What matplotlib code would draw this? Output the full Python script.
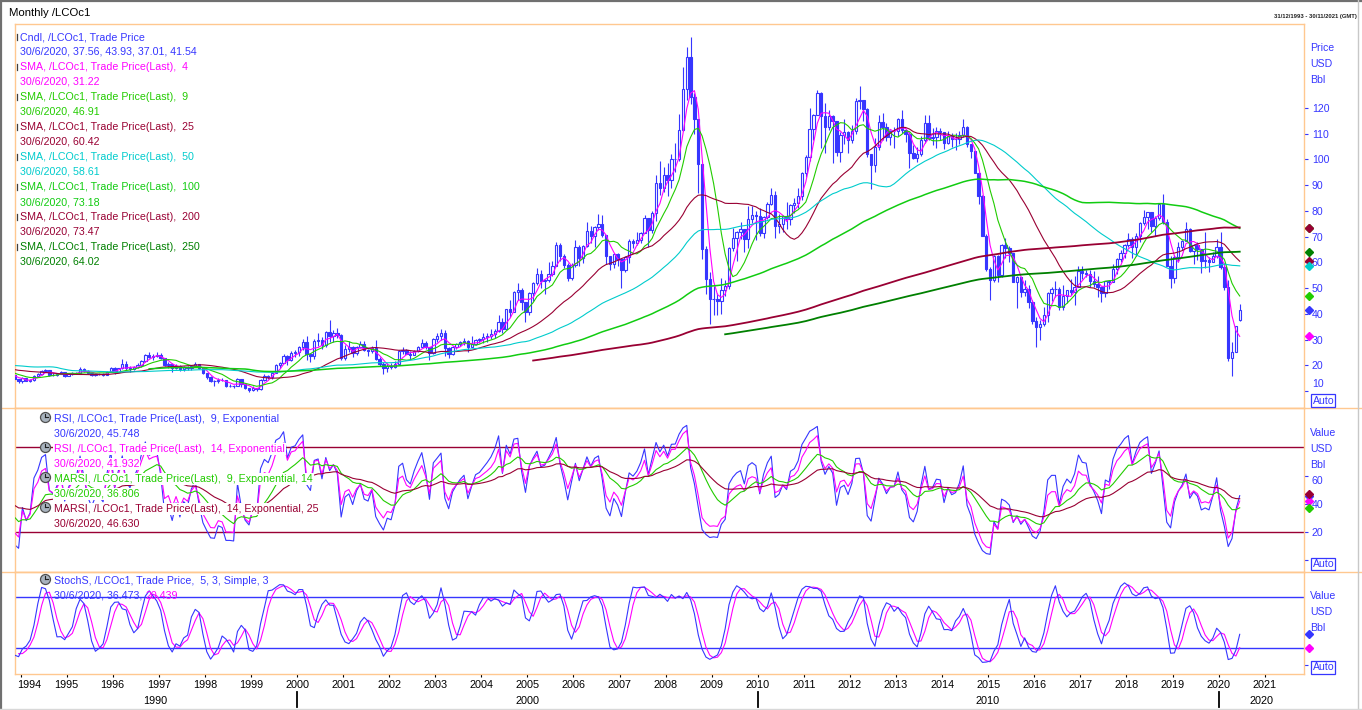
import numpy as np
import pandas as pd
import matplotlib
matplotlib.use("Agg")
import matplotlib.pyplot as plt
from matplotlib.lines import Line2D
import matplotlib.transforms as mtrans

# ---------------------------------------------------------------- data
# Monthly closes used only as history for the long moving averages (Jul 1988 - Mar 1993)
hist_start = "1988-07"
close_hist = [
    14.9, 14.5, 12.9, 12.6, 14.0, 16.5,
    17.2, 17.0, 19.3, 19.9, 17.9, 18.4, 17.8, 17.5, 19.4, 19.4, 19.5, 21.8,
    20.5, 19.4, 17.6, 16.4, 16.3, 15.8, 19.5, 27.0, 37.0, 31.5, 30.5, 27.3,
    20.2, 18.6, 19.3, 19.4, 18.9, 18.7, 19.6, 19.9, 20.8, 22.6, 20.2, 17.9,
    18.2, 18.2, 17.9, 19.5, 20.0, 21.0, 19.6, 19.8, 20.4, 19.7, 18.8, 18.0,
    17.5, 18.3, 18.5,
]

# Monthly candles (Apr 1993 - Jun 2020)
ohlc_start = "1993-04"
closes = [
    18.6, 18.1, 16.6, 16.6, 16.8, 16.4, 16.2, 14.5, 13.7,
    15.0, 13.9, 14.2, 16.0, 16.6, 17.8, 18.1, 16.4, 16.2, 16.6, 17.3, 15.9,
    16.6, 17.1, 17.1, 18.6, 17.8, 16.8, 16.2, 16.6, 16.6, 16.4, 17.4, 19.1,
    17.4, 18.8, 20.5, 18.9, 18.5, 19.3, 20.0, 21.6, 24.0, 23.3, 23.7, 23.9,
    22.9, 20.1, 20.4, 18.9, 19.9, 18.4, 19.3, 18.9, 19.9, 20.4, 18.9, 16.9,
    15.6, 14.0, 13.9, 14.4, 14.2, 12.1, 12.1, 12.0, 14.5, 12.6, 11.0, 10.3,
    11.2, 10.7, 14.3, 15.7, 15.5, 17.0, 20.0, 20.8, 23.7, 21.9, 24.6, 25.0,
    27.1, 29.1, 24.4, 23.6, 29.6, 30.0, 27.7, 32.9, 31.2, 32.6, 31.6, 23.0,
    26.5, 27.1, 24.9, 27.0, 28.1, 25.8, 25.5, 26.7, 22.4, 20.6, 18.8, 19.8,
    19.5, 20.6, 25.4, 26.0, 24.5, 24.1, 25.6, 27.0, 28.5, 27.2, 24.6, 30.2,
    31.4, 32.7, 26.8, 24.5, 27.0, 28.1, 29.0, 29.6, 26.9, 28.4, 29.9, 30.2,
    30.8, 31.4, 32.1, 33.3, 36.7, 34.0, 41.7, 40.7, 48.5, 49.1, 44.6, 40.5,
    48.2, 51.9, 55.4, 52.7, 53.2, 55.6, 58.7, 66.8, 62.4, 59.1, 53.9, 58.9,
    66.0, 61.7, 66.3, 72.3, 70.3, 73.9, 75.0, 70.8, 62.5, 59.3, 63.1, 61.1,
    57.1, 62.2, 68.1, 67.4, 68.8, 71.4, 77.1, 72.7, 79.2, 90.7, 88.7, 93.9,
    91.8, 100.1, 100.3, 111.4, 127.4, 139.8, 124.1, 115.5, 98.2, 65.3, 53.5, 45.6,
    45.9, 44.8, 49.2, 50.8, 65.5, 69.3, 71.7, 72.8, 69.1, 77.0, 78.5, 77.9,
    71.2, 77.6, 82.7, 86.2, 74.0, 75.0, 77.9, 76.7, 82.3, 83.2, 85.9, 94.8,
    101.0, 111.8, 117.4, 125.9, 116.7, 112.5, 116.7, 114.9, 102.8, 109.6, 110.5, 107.4,
    110.9, 122.7, 122.9, 119.5, 101.9, 97.8, 104.9, 114.6, 112.4, 108.7, 110.9, 111.1,
    115.6, 111.4, 110.0, 102.4, 100.4, 102.2, 107.7, 114.0, 108.4, 108.8, 110.9, 110.8,
    106.4, 109.1, 107.8, 108.1, 109.4, 112.4, 106.0, 103.2, 94.7, 85.9, 70.2, 57.3,
    53.0, 62.6, 55.1, 66.8, 65.6, 63.6, 52.2, 54.2, 48.4, 49.6, 44.6, 37.3,
    34.7, 36.0, 39.6, 48.1, 49.7, 49.7, 42.5, 47.0, 49.1, 48.3, 50.5, 56.8,
    55.7, 55.6, 52.8, 51.7, 50.3, 47.9, 52.7, 52.4, 57.5, 61.4, 63.6, 66.9,
    69.1, 65.8, 70.3, 75.2, 77.6, 79.4, 74.3, 77.4, 82.7, 75.5, 58.7, 53.8,
    61.9, 66.0, 68.4, 72.8, 64.5, 66.6, 65.2, 60.4, 60.8, 60.23, 62.43, 66.0,
    58.16, 50.52, 22.74, 25.27, 35.33, 41.54,
]
highs = [
    19.2, 18.9, 18.2, 17.0, 17.4, 17.1, 17.6, 16.3, 14.8,
    15.4, 15.2, 14.6, 16.2, 16.9, 18.3, 18.7, 18.3, 16.8, 17.0, 17.6, 17.4,
    16.9, 17.4, 17.4, 19.2, 19.0, 18.0, 16.9, 16.9, 17.0, 16.8, 17.7, 19.3,
    19.3, 19.0, 22.3, 21.8, 19.6, 19.6, 20.9, 21.9, 24.3, 25.2, 24.2, 25.0,
    24.8, 23.0, 21.3, 20.8, 20.4, 20.0, 19.6, 19.8, 20.0, 21.3, 20.5, 19.2,
    16.9, 15.7, 14.3, 14.9, 15.1, 14.3, 12.9, 12.2, 15.1, 14.4, 12.7, 11.3,
    12.0, 11.3, 14.7, 16.6, 16.4, 17.4, 20.3, 21.3, 24.3, 23.8, 25.6, 26.0,
    27.6, 30.3, 31.5, 24.6, 30.2, 32.6, 31.0, 33.2, 37.4, 33.7, 34.5, 32.3,
    27.7, 29.3, 27.6, 27.4, 29.5, 29.6, 26.5, 27.6, 29.9, 23.2, 21.4, 20.8,
    20.8, 21.6, 25.8, 27.0, 26.5, 25.6, 26.1, 27.5, 30.3, 29.6, 26.4, 30.6,
    32.5, 34.0, 33.8, 26.9, 27.3, 28.6, 29.3, 30.4, 29.7, 31.3, 30.1, 30.6,
    32.4, 32.6, 34.0, 34.0, 39.5, 38.2, 41.9, 45.2, 48.8, 52.0, 49.9, 42.3,
    48.5, 52.4, 57.6, 56.9, 53.4, 60.0, 60.7, 68.0, 67.4, 63.2, 59.8, 59.7,
    68.5, 66.9, 66.7, 75.5, 74.0, 74.0, 78.6, 78.3, 70.8, 62.6, 63.5, 63.8,
    60.5, 62.6, 68.9, 69.0, 71.8, 71.8, 78.4, 76.5, 80.0, 94.0, 99.2, 97.0,
    98.5, 102.0, 106.3, 117.5, 135.8, 143.6, 147.5, 125.6, 110.5, 97.8, 66.5, 56.4,
    50.9, 48.2, 53.8, 53.3, 65.9, 73.5, 72.0, 75.8, 72.4, 82.0, 82.0, 80.0,
    81.0, 78.0, 83.3, 88.9, 87.6, 78.8, 78.5, 83.6, 82.8, 85.0, 89.0, 94.9,
    101.7, 119.8, 117.6, 127.0, 126.2, 121.8, 119.0, 117.1, 115.1, 110.5, 115.6, 111.0,
    113.2, 124.0, 128.4, 121.6, 119.9, 102.2, 108.3, 117.1, 117.9, 114.3, 111.3, 112.4,
    116.0, 119.2, 111.6, 110.5, 105.6, 104.8, 109.0, 117.3, 117.3, 112.0, 112.4, 112.3,
    110.2, 111.2, 110.1, 110.4, 111.0, 115.7, 112.9, 106.0, 103.3, 95.1, 86.2, 70.9,
    58.0, 63.0, 62.9, 67.1, 69.6, 66.4, 63.4, 54.7, 54.0, 53.1, 51.0, 45.2,
    38.8, 37.5, 42.5, 48.5, 50.5, 52.9, 50.4, 51.2, 49.3, 53.7, 54.5, 58.4,
    58.4, 57.2, 56.9, 56.7, 54.7, 50.6, 52.9, 53.2, 59.5, 61.7, 64.7, 67.1,
    71.3, 69.8, 71.3, 75.5, 80.5, 79.7, 79.5, 78.0, 83.0, 86.7, 76.9, 62.4,
    62.8, 67.7, 68.7, 75.6, 73.2, 67.1, 68.0, 62.5, 71.9, 62.0, 64.0, 68.9,
    71.8, 59.9, 53.1, 29.0, 35.4, 43.93,
]
lows = [
    18.1, 17.9, 16.5, 15.9, 16.3, 15.9, 16.0, 14.3, 13.2,
    13.2, 13.7, 13.4, 14.0, 15.5, 16.4, 17.4, 16.0, 15.8, 15.9, 16.5, 15.6,
    15.7, 16.4, 16.6, 16.9, 17.5, 16.6, 15.8, 16.0, 16.2, 15.9, 16.3, 17.2,
    16.6, 17.3, 18.6, 18.0, 17.2, 18.0, 19.0, 19.5, 21.3, 22.7, 22.0, 23.2,
    22.4, 19.9, 18.9, 17.5, 18.7, 17.9, 17.8, 18.2, 18.3, 19.6, 18.4, 16.7,
    14.8, 13.6, 11.9, 13.0, 13.9, 11.6, 11.7, 11.2, 11.9, 11.6, 10.8, 9.5,
    9.9, 10.0, 10.4, 14.0, 14.6, 14.7, 16.8, 19.0, 20.7, 20.2, 21.5, 23.1,
    23.6, 25.9, 22.0, 21.3, 22.5, 27.5, 26.5, 27.0, 28.9, 29.0, 30.5, 22.0,
    22.1, 25.3, 23.3, 24.0, 26.6, 25.5, 23.6, 24.8, 22.0, 19.6, 16.5, 17.4,
    18.5, 18.8, 20.3, 24.3, 24.2, 22.6, 24.0, 25.0, 27.1, 26.3, 22.2, 24.3,
    29.2, 30.0, 23.6, 23.0, 24.0, 26.4, 27.5, 28.0, 25.0, 27.3, 27.8, 28.6,
    28.8, 28.9, 30.1, 30.5, 32.9, 32.5, 34.1, 38.8, 40.6, 45.2, 41.6, 37.0,
    39.5, 44.9, 51.2, 49.9, 47.6, 52.4, 54.6, 58.6, 60.4, 57.6, 52.6, 53.3,
    58.3, 58.7, 59.6, 66.1, 67.4, 66.0, 72.5, 70.0, 59.5, 57.0, 57.9, 58.6,
    49.9, 56.4, 59.9, 65.4, 66.6, 67.5, 71.2, 66.0, 71.5, 76.1, 86.0, 87.4,
    85.6, 89.0, 95.1, 99.3, 111.0, 123.0, 121.5, 109.7, 87.0, 61.3, 47.5, 36.2,
    39.7, 39.4, 40.0, 47.0, 49.8, 64.3, 60.4, 69.2, 64.2, 65.7, 75.2, 68.6,
    70.2, 69.6, 76.8, 82.3, 69.6, 71.2, 71.8, 72.8, 74.6, 79.1, 81.0, 84.4,
    93.1, 99.5, 107.5, 117.4, 104.6, 102.6, 111.6, 98.7, 101.2, 99.1, 106.0, 102.3,
    106.3, 109.7, 119.6, 115.1, 101.1, 88.5, 95.2, 103.5, 107.6, 107.0, 105.4, 104.4,
    109.1, 110.1, 106.6, 96.8, 100.1, 99.1, 101.4, 106.3, 107.4, 105.4, 104.6, 107.5,
    104.1, 106.1, 104.8, 103.6, 106.0, 108.8, 104.7, 100.7, 94.6, 82.6, 70.2, 56.5,
    45.2, 52.5, 52.5, 54.2, 61.6, 60.0, 52.2, 42.2, 46.4, 47.1, 42.4, 36.0,
    27.1, 30.0, 35.2, 36.9, 45.0, 46.6, 41.5, 41.5, 44.3, 47.4, 43.3, 51.6,
    53.6, 54.3, 50.3, 50.6, 46.6, 44.4, 46.6, 49.7, 52.2, 55.6, 60.0, 61.8,
    66.1, 61.7, 62.5, 67.8, 74.4, 73.0, 71.7, 70.4, 76.5, 74.9, 58.4, 50.0,
    52.1, 60.0, 64.6, 68.3, 64.1, 59.5, 61.0, 55.9, 57.9, 56.2, 60.1, 61.8,
    57.5, 49.2, 21.7, 16.0, 25.0, 37.01,
]
last_open = 37.56

sma_periods = [4, 9, 25, 50, 100, 200, 250]
sma_last = ["31.22", "46.91", "60.42", "58.61", "73.18", "73.47", "64.02"]
rsi_periods = [9, 14]
marsi_periods = [14, 25]
rsi_last = ["45.748", "41.932", "36.806", "46.630"]
stoch_last = ["36.473", "20.439"]
candle_last = "30/6/2020, 37.56, 43.93, 37.01, 41.54"
price_ticks = list(range(10, 130, 10))
rsi_ticks = [20, 40, 60]
year_ticks = list(range(1994, 2022))
decades = [("1990", 155), ("2000", 527), ("2010", 988), ("2020", 1262)]
decade_marks = [2000, 2010, 2020]

assert len(closes) == len(highs) == len(lows) == 327

# ---------------------------------------------------------------- styles
BLUE = '#3636ff'
MAG = '#ff00ff'
LIME = '#22cc00'
MAROON = '#990033'
CYAN = '#00cccc'
GREEN100 = '#11cc11'
DKGREEN = '#008000'
ORANGE = '#ffc890'
sma_colors = [MAG, LIME, MAROON, CYAN, GREEN100, MAROON, DKGREEN]
sma_lw = [0.8, 0.8, 0.8, 0.8, 1.1, 1.3, 1.3]

plt.rcParams['font.family'] = ['Liberation Sans', 'DejaVu Sans']

W, H = 1362, 710
fig = plt.figure(figsize=(W / 100, H / 100), dpi=100)


def rect(x0, y0, x1, y1):
    return [x0 / W, 1 - y1 / H, (x1 - x0) / W, (y1 - y0) / H]


def ftxt(x, y, s, color, size=7.7, ha='left', va='center', **kw):
    return fig.text(x / W, 1 - y / H, s, color=color, fontsize=size, ha=ha, va=va, **kw)


def fline(xs, ys, color, lw, **kw):
    fig.add_artist(Line2D([x / W for x in xs], [1 - y / H for y in ys], color=color,
                          lw=lw, transform=fig.transFigure, **kw))


ax1 = fig.add_axes(rect(15, 24, 1304, 408))
ax2 = fig.add_axes(rect(15, 408, 1304, 572))
ax3 = fig.add_axes(rect(15, 572, 1304, 674))

# ---------------------------------------------------------------- series
all_close = np.r_[np.array(close_hist), np.array(closes)]
all_idx = pd.period_range(hist_start, periods=len(all_close), freq='M')
x_all = np.asarray(all_idx.year + (all_idx.month - 0.5) / 12.0, dtype=float)
o_idx = pd.period_range(ohlc_start, periods=len(closes), freq='M')
x_o = np.asarray(o_idx.year + (o_idx.month - 0.5) / 12.0, dtype=float)

c_a = np.array(closes, dtype=float)
opens = np.r_[close_hist[-1], c_a[:-1]]
opens[-1] = last_open
h_a = np.maximum(np.array(highs, dtype=float), np.maximum(opens, c_a))
l_a = np.minimum(np.array(lows, dtype=float), np.minimum(opens, c_a))

x_left = 2000 - 282 / 46.08
x_right = 2000 + 1007 / 46.08

# ---------------------------------------------------------------- price panel
up = c_a >= opens
ax1.vlines(x_o, l_a, h_a, color=BLUE, lw=0.8, zorder=2)
bw = 0.62 / 12
ax1.bar(x_o[up], (c_a - opens)[up], bottom=opens[up], width=bw, facecolor='white',
        edgecolor=BLUE, lw=0.8, zorder=3)
ax1.bar(x_o[~up], (opens - c_a)[~up], bottom=c_a[~up], width=bw, facecolor=BLUE,
        edgecolor=BLUE, lw=0.8, zorder=3)

s_all = pd.Series(all_close)
for p, col, lw in zip(sma_periods, sma_colors, sma_lw):
    ma = s_all.rolling(p).mean().to_numpy()
    ax1.plot(x_all, ma, color=col, lw=lw, zorder=4)

ax1.set_ylim(3.39, 152.6)
ax1.set_yticks(price_ticks)
ax1.set_yticklabels([''] + [str(v) for v in price_ticks[1:]])

# ---------------------------------------------------------------- RSI panel
d = s_all.diff()
upm = d.clip(lower=0)
dnm = (-d).clip(lower=0)


def rsi(n):
    a = 2.0 / (n + 1)
    ru = upm.ewm(alpha=a, adjust=False).mean()
    rd = dnm.ewm(alpha=a, adjust=False).mean()
    return 100 * ru / (ru + rd)


r9 = rsi(rsi_periods[0])
r14 = rsi(rsi_periods[1])
m9 = r9.ewm(span=marsi_periods[0], adjust=False).mean()
m14 = r14.ewm(span=marsi_periods[1], adjust=False).mean()
ax2.axhline(80, color=MAROON, lw=1.0, zorder=1)
ax2.axhline(20, color=MAROON, lw=1.0, zorder=1)
ax2.plot(x_all[2:], r9.to_numpy()[2:], color=BLUE, lw=0.8, zorder=2)
ax2.plot(x_all[2:], r14.to_numpy()[2:], color=MAG, lw=0.8, zorder=3)
ax2.plot(x_all[2:], m9.to_numpy()[2:], color=LIME, lw=0.8, zorder=4)
ax2.plot(x_all[2:], m14.to_numpy()[2:], color=MAROON, lw=0.8, zorder=5)
ax2.set_ylim(-8.4, 107.9)
ax2.set_yticks([0] + rsi_ticks)
ax2.set_yticklabels(['', '20', '40', ''])

# ---------------------------------------------------------------- Stochastic panel
cs = pd.Series(c_a)
hh = pd.Series(h_a).rolling(5).max()
ll = pd.Series(l_a).rolling(5).min()
fk = 100 * (cs - ll) / (hh - ll)
sk = fk.rolling(3).mean()
sd = sk.rolling(3).mean()
ax3.axhline(80, color=BLUE, lw=1.0, zorder=1)
ax3.axhline(20, color=BLUE, lw=1.0, zorder=1)
ax3.plot(x_o, sk.to_numpy(), color=BLUE, lw=0.8, zorder=3)
ax3.plot(x_o, sd.to_numpy(), color=MAG, lw=0.8, zorder=2)
ax3.set_ylim(-10.2, 109.8)
ax3.set_yticks([0])
ax3.set_yticklabels([''])

# ---------------------------------------------------------------- axes styling
for ax in (ax1, ax2, ax3):
    ax.set_xlim(x_left, x_right)
    for sp in ax.spines.values():
        sp.set_color(ORANGE)
        sp.set_linewidth(1.0)
    ax.yaxis.tick_right()
    ax.tick_params(axis='y', which='both', left=False, right=True, direction='out',
                   length=3.2, width=0.8, color=BLUE, labelcolor=BLUE, labelsize=7.6, pad=2.5)
    ax.tick_params(axis='x', which='both', bottom=False, top=False, labelbottom=False)
    ax.set_facecolor('white')

# shifted labels (as in the reference, lifted/lowered away from neighbours)
ftxt(1312, 384.5, str(price_ticks[0]), BLUE, size=7.6)
ftxt(1312, 481, str(rsi_ticks[-1]), BLUE, size=7.6)

ax3.set_xticks(year_ticks)
ax3.set_xticklabels([''] + [str(y) for y in year_ticks[1:]])
ax3.tick_params(axis='x', bottom=True, labelbottom=True, direction='out', length=2.5,
                width=0.8, color='black', labelcolor='black', labelsize=7.8, pad=1.8)
ftxt(29, 685.5, str(year_ticks[0]), 'black', size=7.8, ha='center')

# decade marks and labels
for yr in decade_marks:
    px = 297 + (yr - 2000) * 46.08
    fline([px, px], [692, 707], 'black', 1.3)
for lab, px in decades:
    ftxt(px, 700.5, lab, 'black', size=7.8, ha='center')

# ---------------------------------------------------------------- last-value diamonds
def diamonds(ax, vals_cols):
    tr = mtrans.blended_transform_factory(ax.transAxes, ax.transData)
    xd = (1309 - 15) / (1304 - 15)
    for v, c in vals_cols:
        ax.plot([xd], [v], marker='D', ms=3.7, color=c, mec=c, transform=tr,
                clip_on=False, zorder=10)


diamonds(ax1, [(float(candle_last.split(', ')[-1]), BLUE)] +
         [(float(v), c) for v, c in zip(sma_last, sma_colors)])
diamonds(ax2, [(float(rsi_last[0]), BLUE), (float(rsi_last[1]), MAG),
               (float(rsi_last[2]), LIME), (float(rsi_last[3]), MAROON)])
diamonds(ax3, [(float(stoch_last[0]), BLUE), (float(stoch_last[1]), MAG)])

# ---------------------------------------------------------------- right-hand unit labels
for i, s in enumerate(["Price", "USD", "Bbl"]):
    ftxt(1310, 48 + 16 * i, s, BLUE, size=7.6)
for i, s in enumerate(["Value", "USD", "Bbl"]):
    ftxt(1310, 433 + 16 * i, s, BLUE, size=7.6)
for i, s in enumerate(["Value", "USD", "Bbl"]):
    ftxt(1310, 596 + 16 * i, s, BLUE, size=7.6)
for yy in (400.5, 564, 667.5):
    ftxt(1312.5, yy, "Auto", BLUE, size=7.6,
         bbox=dict(boxstyle='square,pad=0.12', facecolor='white', edgecolor=BLUE, lw=0.9))

# ---------------------------------------------------------------- frame lines
fline([0, W], [408, 408], ORANGE, 1.0)
fline([0, W], [572, 572], ORANGE, 1.0)
fline([0, W], [0.8, 0.8], '#707070', 1.6)
fline([0.8, 0.8], [0, H], '#707070', 1.6)
fline([1357.5, 1357.5], [0, H], '#c8c8c8', 1.0)
fline([0, W], [708.5, 708.5], '#d8d8d8', 1.0)

# ---------------------------------------------------------------- titles
ftxt(9, 12.5, "Monthly /LCOc1", 'black', size=8.2)
ftxt(1357, 16.5, "31/12/1993 - 30/11/2021 (GMT)", '#202020', size=4.2, ha='right',
     fontweight='bold')

# ---------------------------------------------------------------- price legend
legend_rows = [("Cndl, /LCOc1, Trade Price", candle_last, BLUE)]
for p, v, c in zip(sma_periods, sma_last, sma_colors):
    legend_rows.append((f"SMA, /LCOc1, Trade Price(Last),  {p}", f"30/6/2020, {v}", c))
for i, (t1, t2, c) in enumerate(legend_rows):
    ftxt(20, 37 + 30 * i, t1, c)
    ftxt(20, 52 + 30 * i, t2, c)
    fline([16.5, 16.5], [34 + 30 * i, 40 + 30 * i], '#404040', 0.9)

# ---------------------------------------------------------------- indicator legends
def clock(x, y):
    fig.add_artist(Line2D([x / W], [1 - y / H], marker='o', ms=7.2, mfc='#a8b3be',
                          mec='#505050', mew=0.9, ls='none', transform=fig.transFigure,
                          zorder=20))
    fline([x, x], [y, y - 3], '#202020', 0.8, zorder=21)
    fline([x, x + 2.5], [y, y], '#202020', 0.8, zorder=21)


wb = dict(facecolor='white', edgecolor='none', pad=0.6)
rsi_rows = [
    (f"RSI, /LCOc1, Trade Price(Last),  {rsi_periods[0]}, Exponential", rsi_last[0], BLUE),
    (f"RSI, /LCOc1, Trade Price(Last),  {rsi_periods[1]}, Exponential", rsi_last[1], MAG),
    (f"MARSI, /LCOc1, Trade Price(Last),  {rsi_periods[0]}, Exponential, {marsi_periods[0]}",
     rsi_last[2], LIME),
    (f"MARSI, /LCOc1, Trade Price(Last),  {rsi_periods[1]}, Exponential, {marsi_periods[1]}",
     rsi_last[3], MAROON),
]
for i, (t1, v, c) in enumerate(rsi_rows):
    yy = 419 + 30 * i
    ftxt(54, yy, t1, c, bbox=wb, zorder=15)
    ftxt(54, yy + 15, f"30/6/2020, {v}", c, bbox=wb, zorder=15)
    clock(45, yy - 2)

ftxt(54, 581, "StochS, /LCOc1, Trade Price,  5, 3, Simple, 3", BLUE, zorder=15)
t_blue = ftxt(54, 596, f"30/6/2020, {stoch_last[0]},", BLUE, zorder=15)
clock(45, 579)
fig.canvas.draw()
bb = t_blue.get_window_extent(renderer=fig.canvas.get_renderer())
ftxt(bb.x1 + 3.5, 596, stoch_last[1], MAG, zorder=15)

fig.savefig("out.png", dpi=100, facecolor='white')
